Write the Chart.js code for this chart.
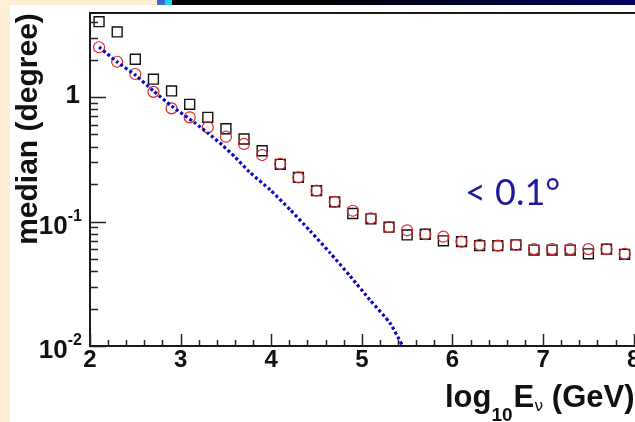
<!DOCTYPE html>
<html>
<head>
<meta charset="utf-8">
<script src="https://cdn.jsdelivr.net/npm/chart.js@4/dist/chart.umd.min.js"></script>
<style>
  html, body { margin: 0; padding: 0; background: #fff; width: 635px; height: 422px; overflow: hidden; position: relative; }
  #wrap { position: absolute; left: 0; top: 0; width: 700px; height: 422px; }
  .strip { position: absolute; }
</style>
</head>
<body>
<div id="wrap"><canvas id="chart" width="700" height="422"></canvas></div>
<div class="strip" style="left:0;top:0;width:10px;height:422px;background:#fcefd3"></div>
<div class="strip" style="left:0;top:0;width:157px;height:5px;background:#fcefd3"></div>
<div class="strip" style="left:157px;top:0;width:8px;height:5px;background:#3a6ccf"></div>
<div class="strip" style="left:165px;top:0;width:7px;height:5px;background:#19d3ef"></div>
<div class="strip" style="left:172px;top:0;width:463px;height:5px;background:linear-gradient(to right,#000 0%,#000 30%,#00005e 100%)"></div>
<script>
// log10(E) bins of the two marker series
var energy = [2.1, 2.3, 2.5, 2.7, 2.9, 3.1, 3.3, 3.5, 3.7, 3.9,
              4.1, 4.3, 4.5, 4.7, 4.9, 5.1, 5.3, 5.5, 5.7, 5.9,
              6.1, 6.3, 6.5, 6.7, 6.9, 7.1, 7.3, 7.5, 7.7, 7.9];
// black open squares
var medianSquares = [4.03, 3.33, 2.01, 1.39, 1.12, 0.873, 0.687, 0.556, 0.46, 0.37,
                     0.288, 0.226, 0.177, 0.144, 0.116, 0.105, 0.090, 0.078, 0.079, 0.070,
                     0.069, 0.064, 0.064, 0.065, 0.059, 0.059, 0.059, 0.055, 0.060, 0.0545];
// red open circles
var medianCircles = [2.51, 1.92, 1.53, 1.10, 0.81, 0.687, 0.571, 0.48, 0.42, 0.342,
                     0.29, 0.226, 0.177, 0.144, 0.122, 0.106, 0.090, 0.085, 0.079, 0.0755,
                     0.069, 0.065, 0.064, 0.065, 0.060, 0.060, 0.060, 0.060, 0.060, 0.055];
// blue dotted curve
var lineEnergy = [2.1, 2.3, 2.5, 2.7, 2.9, 3.16, 3.3, 3.46, 3.6, 3.76,
                  3.99, 4.21, 4.43, 4.65, 4.87, 5.09, 5.31, 5.45];
var lineMedian = [2.52, 1.91, 1.50, 1.12, 0.847, 0.618, 0.514, 0.411, 0.330, 0.250,
                  0.179, 0.124, 0.0839, 0.0559, 0.0365, 0.0234, 0.0153, 0.0100];

var xTickValues = [2, 3, 4, 5, 6, 7, 8];
var yTickValues = [0.01, 0.1, 1];
var yTickBase = ['10', '10', '1'];
var yTickExp = ['-2', '-1', ''];

function toPoints(xs, ys) {
  var out = [];
  for (var i = 0; i < xs.length; i++) out.push({ x: xs[i], y: ys[i] });
  return out;
}

var BOLD = 'bold {s}px "Liberation Sans", Arial, sans-serif';
function bold(s) { return BOLD.replace('{s}', s); }

// ROOT-like frame, inside ticks and labels
var rootAxes = {
  id: 'rootAxes',
  afterDatasetsDraw: function (chart) {
    var ctx = chart.ctx, a = chart.chartArea;
    var xs = chart.scales.x, ys = chart.scales.y;
    ctx.save();

    ctx.strokeStyle = '#1a1a1a';
    ctx.lineWidth = 2;
    ctx.strokeRect(a.left, a.top, a.right - a.left, a.bottom - a.top);

    // x ticks: majors at integers, minors every 0.2
    ctx.lineWidth = 1.5;
    ctx.strokeStyle = '#222';
    for (var k = 0; k <= 32; k++) {
      var v = xs.min + k * 0.2;
      if (v > xs.max) break;
      var px = Math.round(xs.getPixelForValue(v)) + 0.5;
      var len = (k % 5 === 0) ? 12 : 6;
      ctx.beginPath();
      ctx.moveTo(px, a.bottom);
      ctx.lineTo(px, a.bottom - len);
      ctx.stroke();
    }

    // y ticks (log)
    var decades = [0.01, 0.1, 1];
    decades.forEach(function (d) {
      for (var m = 1; m <= 9; m++) {
        var val = d * m;
        if (val > ys.max) break;
        var py = Math.round(ys.getPixelForValue(val)) + 0.5;
        var len = (m === 1) ? 16 : 8;
        ctx.beginPath();
        ctx.moveTo(a.left, py);
        ctx.lineTo(a.left + len, py);
        ctx.stroke();
      }
    });

    // x labels
    ctx.fillStyle = '#111';
    ctx.font = bold(24);
    ctx.textAlign = 'center';
    ctx.textBaseline = 'alphabetic';
    xTickValues.forEach(function (v) {
      ctx.fillText(String(v), xs.getPixelForValue(v), 367);
    });

    // y labels with exponents
    var rightEdge = 82;
    yTickValues.forEach(function (v, i) {
      var py = ys.getPixelForValue(v);
      ctx.textBaseline = 'middle';
      ctx.textAlign = 'right';
      if (yTickExp[i]) {
        ctx.font = bold(16);
        var ew = ctx.measureText(yTickExp[i]).width;
        ctx.fillText(yTickExp[i], rightEdge, py - 5);
        ctx.font = bold(26);
        ctx.fillText(yTickBase[i], rightEdge - ew, py + 5);
      } else {
        ctx.font = bold(26);
        ctx.fillText(yTickBase[i], rightEdge - 2, py - 1);
      }
    });

    // y title
    ctx.save();
    ctx.translate(37, 129);
    ctx.rotate(-Math.PI / 2);
    ctx.font = bold(30);
    ctx.textAlign = 'center';
    ctx.textBaseline = 'alphabetic';
    ctx.fillText('median (degree)', 0, 0);
    ctx.restore();

    // x title: log10 E_nu (GeV)
    var x0 = 445, base = 407;
    ctx.textAlign = 'left';
    ctx.textBaseline = 'alphabetic';
    ctx.font = bold(31);
    ctx.fillText('log', x0, base); x0 += ctx.measureText('log').width;
    ctx.font = bold(19);
    ctx.fillText('10', x0, base + 14); x0 += ctx.measureText('10').width + 1;
    ctx.font = bold(31);
    ctx.fillText('E', x0, base); x0 += ctx.measureText('E').width;
    ctx.font = '16px "DejaVu Sans", sans-serif';
    ctx.fillText('\u03BD', x0, base + 4); x0 += ctx.measureText('\u03BD').width;
    ctx.font = bold(31);
    ctx.fillText(' (GeV)', x0, base);

    // annotation
    ctx.fillStyle = '#1a1aa0';
    ctx.font = '36px Lato, "Noto Sans", sans-serif';
    ctx.fillText('< 0.1\u00B0', 465, 205);

    ctx.restore();
  }
};

new Chart(document.getElementById('chart'), {
  type: 'scatter',
  data: {
    datasets: [
      {
        type: 'line',
        label: 'curve',
        data: toPoints(lineEnergy, lineMedian),
        borderColor: '#0a0ac0',
        borderWidth: 3.2,
        borderDash: [3, 2.5],
        borderCapStyle: 'butt',
        pointRadius: 0,
        fill: false,
        tension: 0.2,
        order: 0
      },
      {
        label: 'circles',
        data: toPoints(energy, medianCircles),
        pointStyle: 'circle',
        pointRadius: 5.5,
        borderColor: '#d42a2a',
        borderWidth: 1.2,
        backgroundColor: 'transparent',
        order: 1
      },
      {
        label: 'squares',
        data: toPoints(energy, medianSquares),
        pointStyle: 'rect',
        pointRadius: 7,
        borderColor: '#111',
        borderWidth: 1.4,
        backgroundColor: 'transparent',
        order: 2
      }
    ]
  },
  options: {
    responsive: false,
    devicePixelRatio: 1,
    animation: false,
    events: [],
    layout: { padding: { left: 90, top: 13, right: 21, bottom: 76 } },
    plugins: { legend: { display: false }, tooltip: { enabled: false } },
    scales: {
      x: { type: 'linear', min: 2, max: 8.5, display: false },
      y: { type: 'logarithmic', min: 0.01, max: 4.73, display: false }
    }
  },
  plugins: [rootAxes]
});
</script>
</body>
</html>
